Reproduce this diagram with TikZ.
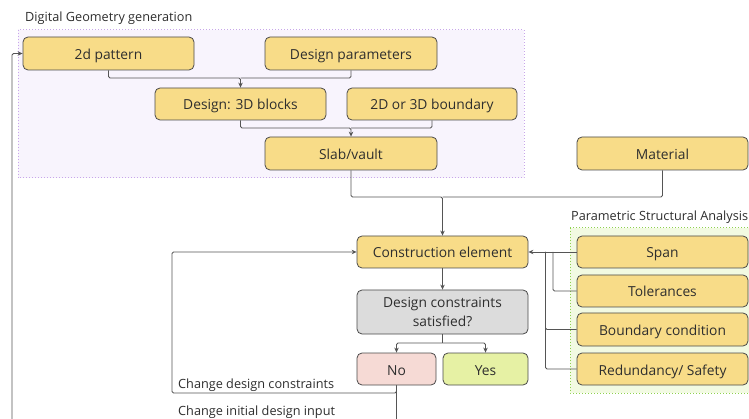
\documentclass[tikz,border=0pt]{standalone}
\usepackage{fontspec}
\setmainfont{Open Sans}
\usetikzlibrary{arrows.meta}
\definecolor{nodeyellow}{HTML}{F8DC88}
\definecolor{nodeborder}{HTML}{4A4A4A}
\definecolor{linegray}{HTML}{555555}
\definecolor{grayfill}{HTML}{DCDCDC}
\definecolor{nofill}{HTML}{F6DAD5}
\definecolor{yesfill}{HTML}{E6F1A4}
\definecolor{purplefill}{HTML}{F8F4FD}
\definecolor{purpleline}{HTML}{C8A6EA}
\definecolor{greenfill}{HTML}{F2FAE2}
\definecolor{greenline}{HTML}{8ED14E}
\definecolor{textgray}{HTML}{2E2E2E}
\tikzset{
  box/.style={draw=nodeborder, line width=0.8pt, rounded corners=5pt, fill=nodeyellow,
    minimum height=32pt, inner sep=0pt, align=center, text=textgray,
    text height=12pt, text depth=0pt,
    font=\fontsize{13.8}{19}\selectfont},
  conn/.style={draw=linegray, line width=0.8pt},
  arr/.style={conn, -{Stealth[length=5pt,width=4.5pt]}},
  grouptitle/.style={anchor=west, inner sep=0pt, text=textgray, font=\fontsize{12.7}{15}\selectfont},
  looplabel/.style={anchor=west, inner sep=0pt, text=textgray, font=\fontsize{12.7}{15}\selectfont},
}
\begin{document}
\begin{tikzpicture}[x=1pt,y=-1pt]
\useasboundingbox (0,0) rectangle (749,419);
\clip (0,0) rectangle (749,419);
% groups
\fill[purplefill] (18,30) rectangle (524,178);
\draw[purpleline, line width=1pt, dotted] (18,30) rectangle (524,178);
\node[grouptitle] (gtitle1) at (25,18.5) {Digital Geometry generation};
\fill[greenfill] (570,228) rectangle (770,393);
\draw[greenline, line width=1pt, dotted] (570,228) rectangle (770,393);
\node[grouptitle] (gtitle2) at (571,217.5) {Parametric Structural Analysis};
% nodes
\node[box, minimum width=171pt, minimum height=33pt] (p2d) at (108.5,53.5) {2d pattern};
\node[box, minimum width=172pt, minimum height=33pt] (dparam) at (351,53.5) {Design parameters};
\node[box, minimum width=171pt] (blocks) at (240.5,104) {Design: 3D blocks};
\node[box, minimum width=170pt] (bound) at (432,104) {2D or 3D boundary};
\node[box, minimum width=172pt, minimum height=33pt] (slab) at (351,153.5) {Slab/vault};
\node[box, minimum width=171pt, minimum height=33pt] (mat) at (662.5,153.5) {Material};
\node[box, minimum width=171pt] (ce) at (442.5,252) {Construction element};
\node[box, minimum width=171pt, minimum height=44pt, fill=grayfill, text height=, text depth=] (dc) at (442.5,312) {Design constraints\\satisfied?};
\node[box, minimum width=79pt, fill=nofill] (no) at (396.5,369) {No};
\node[box, minimum width=85pt, fill=yesfill] (yes) at (485.5,369) {Yes};
\node[box, minimum width=171pt] (span) at (662.5,252) {Span};
\node[box, minimum width=171pt] (tol) at (662.5,291) {Tolerances};
\node[box, minimum width=171pt, minimum height=33pt] (bc) at (662.5,329.5) {Boundary condition};
\node[box, minimum width=171pt] (red) at (662.5,369) {Redundancy/ Safety};
% junctions
\coordinate (m1) at (240.5,78);
\coordinate (m2) at (351,128);
\coordinate (m3) at (442.5,197);
\coordinate (m4) at (442.5,343);
\coordinate (j1) at (553,252);
\coordinate (j2) at (545.5,252);
\coordinate (lp) at (172,393);
\coordinate (lb) at (12,430);
% connectors
\draw[arr, rounded corners=1.5pt] (p2d.south) |- (m1) -- (blocks.north);
\draw[conn, rounded corners=1.5pt] (dparam.south) |- (m1);
\draw[arr, rounded corners=1.5pt] (blocks.south) |- (m2) -- (slab.north);
\draw[conn, rounded corners=1.5pt] (bound.south) |- (m2);
\draw[arr, rounded corners=1.5pt] (slab.south) |- (m3) -- (ce.north);
\draw[conn, rounded corners=1.5pt] (mat.south) |- (m3);
\draw[arr] (ce.south) -- (dc.north);
\draw[conn] (dc.south) -- (m4);
\draw[arr, rounded corners=1.5pt] (m4) -| (no.north);
\draw[arr, rounded corners=1.5pt] (m4) -| (yes.north);
\draw[arr] (span.west) -- (ce.east);
\draw[conn, rounded corners=1.5pt] (tol.west) -| (j1);
\draw[conn, rounded corners=1.5pt] (bc.west) -| (j2);
\draw[conn, rounded corners=1.5pt] (red.west) -| (j2);
\draw[arr, rounded corners=1.5pt] (no.south) |- (lp) |- (ce.west);
\draw[arr, rounded corners=1.5pt] (no.south) |- (lb) |- (p2d.west);
% labels
\node[looplabel] (lab1) at (178,385) {Change design constraints};
\node[looplabel] (lab2) at (178,412) {Change initial design input};
\end{tikzpicture}
\end{document}
